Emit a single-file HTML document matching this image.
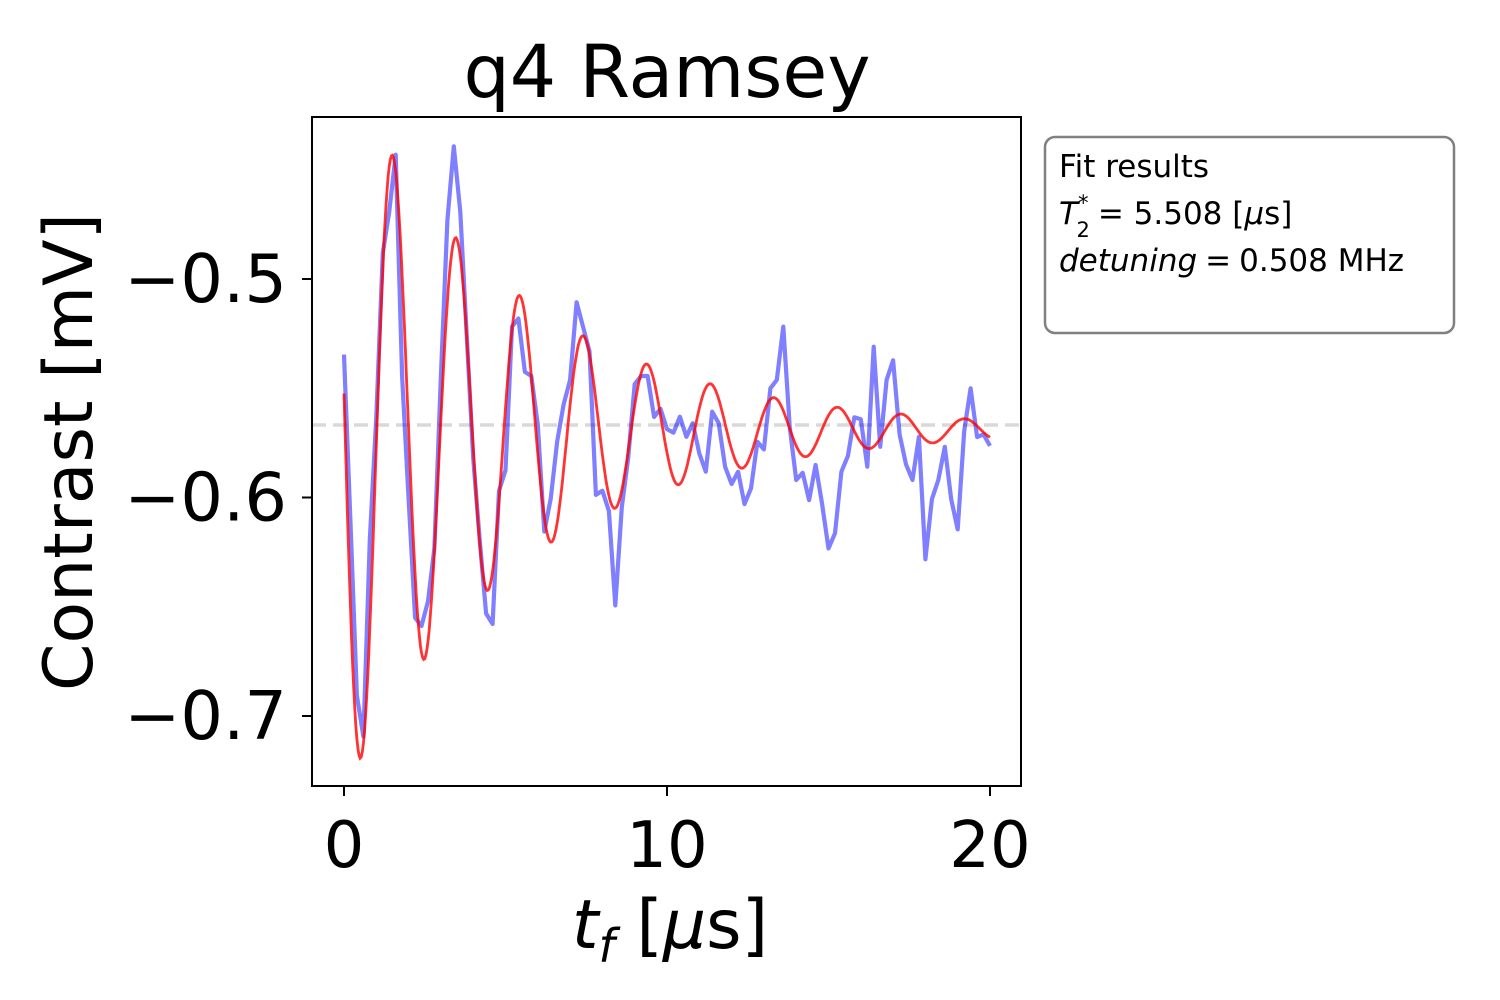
<!DOCTYPE html>
<html><head><meta charset="utf-8"><style>
html,body{margin:0;padding:0;background:#fff;}
svg{display:block;font-family:"DejaVu Sans","Liberation Sans",sans-serif;}
</style></head><body>
<svg id="chart" width="1500" height="1000" viewBox="0 0 1500 1000">
  <text x="667" y="97" font-size="73" text-anchor="middle">q4 Ramsey</text>
  <g id="plot"></g>
  <rect x="312" y="117" width="709" height="669" fill="none" stroke="#000" stroke-width="2"/>
  <g id="xticks"></g>
  <g id="yticks"></g>
  <text x="670" y="948" font-size="68" text-anchor="middle"><tspan font-style="italic">t</tspan><tspan font-style="italic" font-size="46" dy="14">f</tspan><tspan dy="-14"> [</tspan><tspan font-style="italic">μ</tspan><tspan>s]</tspan></text>
  <text transform="translate(92,452) rotate(-90)" font-size="68" text-anchor="middle">Contrast [mV]</text>
  <g>
    <rect x="1045" y="137" width="409" height="196" rx="10" fill="#fff" stroke="#808080" stroke-width="2.5"/>
    <text x="1059" y="177" font-size="31">Fit results</text>
    <text x="1059" y="224" font-size="31"><tspan font-style="italic">T</tspan><tspan font-size="21" dx="0" dy="-14">*</tspan><tspan font-size="21" dx="-12" dy="27">2</tspan><tspan dy="-13" dx="8">= 5.508 [</tspan><tspan font-style="italic">μ</tspan><tspan>s]</tspan></text>
    <text x="1059" y="271" font-size="31"><tspan font-style="italic">detuning</tspan><tspan dx="8">=</tspan><tspan dx="8">0.508 MHz</tspan></text>
  </g>
</svg>
<script>
const timeStart = 0, timeStep = 0.2;
const contrast = [-0.5346,-0.6117,-0.6907,-0.7094,-0.6194,-0.5631,-0.4881,-0.4693,-0.4431,-0.5444,
-0.6006,-0.6550,-0.6588,-0.6475,-0.6231,-0.5444,-0.4731,-0.4393,-0.4693,-0.5256,
-0.5819,-0.6194,-0.6531,-0.6579,-0.5969,-0.5875,-0.5218,-0.5181,-0.5425,-0.5444,
-0.5668,-0.6156,-0.6006,-0.5743,-0.5575,-0.5462,-0.5106,-0.5218,-0.5331,-0.5988,
-0.5969,-0.6062,-0.6494,-0.6044,-0.5819,-0.5481,-0.5444,-0.5444,-0.5631,-0.5594,
-0.5687,
-0.5703,-0.5630,-0.5722,-0.5660,-0.5798,-0.5882,-0.5607,-0.5660,-0.5859,-0.5938,
-0.5882,-0.6030,-0.5958,-0.5745,-0.5780,-0.5500,-0.5462,-0.5218,-0.5676,-0.5920,
-0.5887,-0.6012,-0.5851,-0.6027,-0.6233,-0.6164,-0.5882,-0.5810,-0.5633,-0.5642,
-0.5859,-0.5310,-0.5768,-0.5462,-0.5372,-0.5711,-0.5848,-0.5920,-0.5722,-0.6283,
-0.6008,-0.5920,-0.5768,-0.6008,-0.6146,-0.5696,-0.5500,-0.5723,-0.5711,-0.5764];
const fitOffset = [-0.569];
const fitAmplitude = [0.165];
const fitT2 = [5.508];
const fitFreq = [0.508];
const fitPhase = [1.47];
const xTicks = [0, 10, 20];
const yTicks = [-0.5, -0.6, -0.7];
const yTickLabels = ["\u22120.5", "\u22120.6", "\u22120.7"];

const NS = "http://www.w3.org/2000/svg";
const xs = v => 344 + (v - 0) * 32.3;
const ys = v => 279 + (-0.5 - v) * 2185;

function mk(tag, attrs, parent) {
  const e = document.createElementNS(NS, tag);
  for (const k in attrs) e.setAttribute(k, attrs[k]);
  parent.appendChild(e);
  return e;
}
const plot = document.getElementById("plot");

const dash = mk("line", {x1:312, x2:1021, y1:ys(-0.5668), y2:ys(-0.5668), stroke:"#d9d9d9", "stroke-width":3.5, "stroke-dasharray":"14,7"}, plot);



const dpts = contrast.map((v, i) => xs(timeStart + i * timeStep).toFixed(1) + "," + ys(v).toFixed(1)).join(" ");
const dataLine = mk("polyline", {points:dpts, fill:"none", stroke:"rgba(0,0,255,0.5)", "stroke-width":4.2, "stroke-linejoin":"round"}, plot);



const fpts = [];
const tEnd = timeStart + (contrast.length - 1) * timeStep;
for (let i = 0; i <= 600; i++) {
  const t = timeStart + (tEnd - timeStart) * i / 600;
  const y = fitOffset[0] + fitAmplitude[0] * Math.exp(-t / fitT2[0]) * Math.cos(2 * Math.PI * fitFreq[0] * t + fitPhase[0]);
  fpts.push(xs(t).toFixed(1) + "," + ys(y).toFixed(1));
}
const fitLine = mk("polyline", {points:fpts.join(" "), fill:"none", stroke:"rgba(255,0,0,0.8)", "stroke-width":2.8}, plot);



const xg = document.getElementById("xticks");
xTicks.forEach(v => {
  const l = mk("line", {x1:xs(v), x2:xs(v), y1:786, y2:796, stroke:"#000", "stroke-width":2}, xg);
  
  
  const t = mk("text", {x:xs(v), y:867, "font-size":64, "text-anchor":"middle"}, xg);
  t.textContent = String(v);
  
  
});
const yg = document.getElementById("yticks");
yTicks.forEach((v, i) => {
  const l = mk("line", {x1:302, x2:312, y1:ys(v), y2:ys(v), stroke:"#000", "stroke-width":2}, yg);
  
  
  const t = mk("text", {x:287, y:ys(v) + 23, "font-size":67, "text-anchor":"end"}, yg);
  t.textContent = yTickLabels[i];
  
  
});
</script>
</body></html>
